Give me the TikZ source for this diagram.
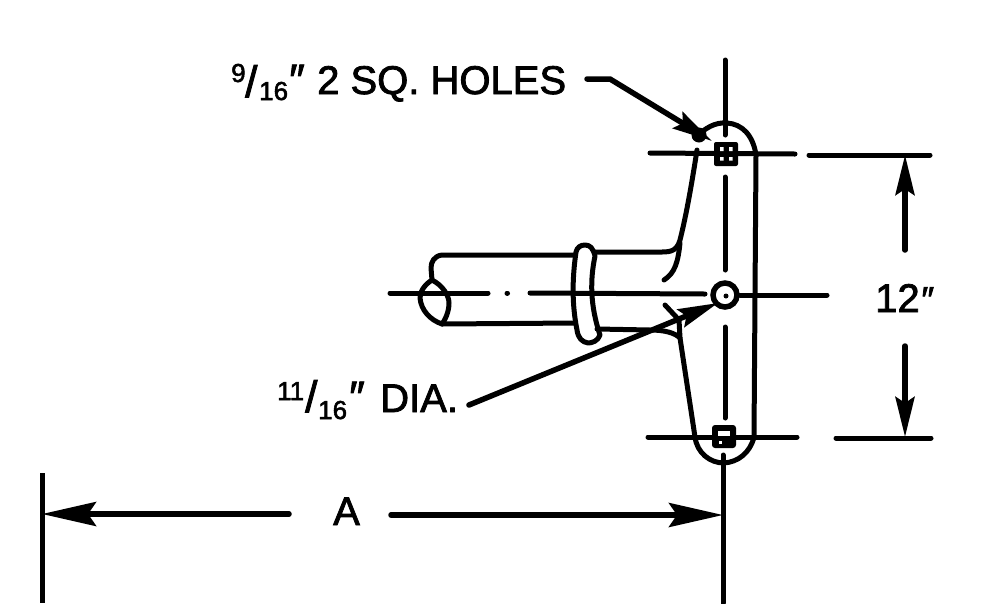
\documentclass[tikz,border=0pt]{standalone}
\usepackage{fontspec}
\setmainfont[FakeBold=2]{Liberation Sans}
\usetikzlibrary{arrows.meta}
\newcommand{\bigprm}[1]{\raisebox{#1}{\fontsize{44}{44}\itshape\selectfont ″}}
\newcommand{\midprm}{{\fontsize{36}{36}\itshape\selectfont ″}}
\tikzset{
  ln/.style={line width=5pt,line cap=round,line join=round},
  lead/.style={line width=5.5pt,line cap=round,-{Stealth[length=40pt,width=19pt,inset=6pt]}},
  leadlong/.style={line width=5.5pt,line cap=round,-{Stealth[length=54pt,width=24pt,inset=8pt]}},
  lbl/.style={inner sep=0pt,font=\fontsize{40}{40}\selectfont,anchor=base west},
  sm/.style={inner sep=0pt,font=\fontsize{26}{26}\selectfont,anchor=base west},
  slsh/.style={inner sep=0pt,font=\fontsize{44}{44}\selectfont,anchor=base west}
}
\begin{document}
\begin{tikzpicture}[x=1pt,y=-1pt]
\useasboundingbox (0,0) rectangle (1008,603);
% labels
\node[sm] (n9) at (231,82) {9};
\node[slsh] (s1) at (245,97) {/};
\node[sm] (n16a) at (259,100) {16\kern-1pt\bigprm{5pt}};
\node[lbl] (holes) at (317,94) {2 SQ. HOLES};
\node[sm] (n11) at (277,400) {11};
\node[slsh] (s2) at (305,412) {/};
\node[sm] (n16b) at (318,419) {16\bigprm{7pt}};
\node[lbl] (dia) at (380,412) {DIA.};
\node[lbl] (twelve) at (875,312) {12\midprm};
\node[lbl] (aa) at (333,525) {A};
% body
\draw[ln] (697,150) .. controls (690,195) and (685,220) .. (680,240) .. controls (677,250) and (672,252) .. (662,252) -- (595,252);
\draw[ln] (680,243) .. controls (678,262) and (675,273) .. (664,280);
\draw[ln] (695,138) .. controls (705,128) and (715,122) .. (727,123) .. controls (742,124) and (753,135) .. (756,155) -- (754,437) .. controls (750,453) and (738,462) .. (724,463) .. controls (710,463) and (697,453) .. (695,437) -- (680,338) .. controls (675,333) and (665,330) .. (650,330) -- (597,329);
\draw[ln] (665,305) -- (679,320) -- (680,338);
% shaft
\draw[ln] (575,255) -- (442,255) .. controls (434,256) and (431,262) .. (431,268) -- (432,280) .. controls (424,285) and (420,292) .. (420,298) .. controls (421,310) and (430,320) .. (442,324) -- (575,323);
\draw[ln] (432,280) .. controls (442,285) and (449,295) .. (449,303) .. controls (449,312) and (445,320) .. (442,324);
% collar
\draw[ln] (576,252) .. controls (577,247) and (581,245) .. (585,245) .. controls (590,245) and (593,248) .. (595,256) .. controls (590,280) and (590,305) .. (600,335) .. controls (598,341) and (592,343) .. (588,343) .. controls (582,342) and (578,338) .. (577,330) .. controls (572,305) and (572,280) .. (576,252);
% centre lines
\draw[ln] (725,60) -- (725,135);
\draw[ln] (725,177) -- (725,270);
\draw[ln] (725,327) -- (725,418);
\draw[ln] (723,455) -- (723,603);
\draw[ln] (650,153) -- (795,154);
\draw[ln] (809,155) -- (930,155);
\draw[ln] (390,293) -- (488,293);
\draw[ln] (507,293) -- (507.5,293);
\draw[ln] (530,293) -- (705,294);
\draw[ln] (740,295) -- (827,295);
\draw[ln] (648,437) -- (797,437);
\draw[ln] (836,438) -- (931,438);
\draw[ln,line cap=butt] (42,473) -- (42,603);
% holes
\fill[rounded corners=2pt] (714,142) rectangle (738,166);
\fill[white] (720,147) rectangle (723.5,151) (729,147) rectangle (732.5,151) (720,157) rectangle (723.5,160.5) (729,157) rectangle (732.5,160.5);
\fill[rounded corners=3pt] (712,425) rectangle (736,448);
\fill[white] (718,431) rectangle (730,435.5);
\fill[white] (719,441) rectangle (722,444);
\draw[line width=5.5pt,fill=white] (725,295) circle (12);
\fill (726,296) circle (2.5);
\fill (699,135) circle (7.5);
% leaders
\coordinate (ldA) at (587,79);
\coordinate (ldB) at (610,79);
\coordinate (ldTip) at (712,141);
\draw[lead] (ldA) -- (ldB) -- (ldTip);
\coordinate (ldC) at (469,405);
\coordinate (ldTip2) at (718,303);
\draw[lead] (ldC) -- (ldTip2);
% dimensions
\coordinate (dA1) at (905,250);
\coordinate (dA2) at (905,155);
\coordinate (dB1) at (905,346);
\coordinate (dB2) at (905,437);
\coordinate (dC1) at (289,514);
\coordinate (dC2) at (42,514);
\coordinate (dD1) at (391,515);
\coordinate (dD2) at (723,515);
\draw[lead] (dA1) -- (dA2);
\draw[lead] (dB1) -- (dB2);
\draw[leadlong] (dC1) -- (dC2);
\draw[leadlong] (dD1) -- (dD2);
\end{tikzpicture}
\end{document}
